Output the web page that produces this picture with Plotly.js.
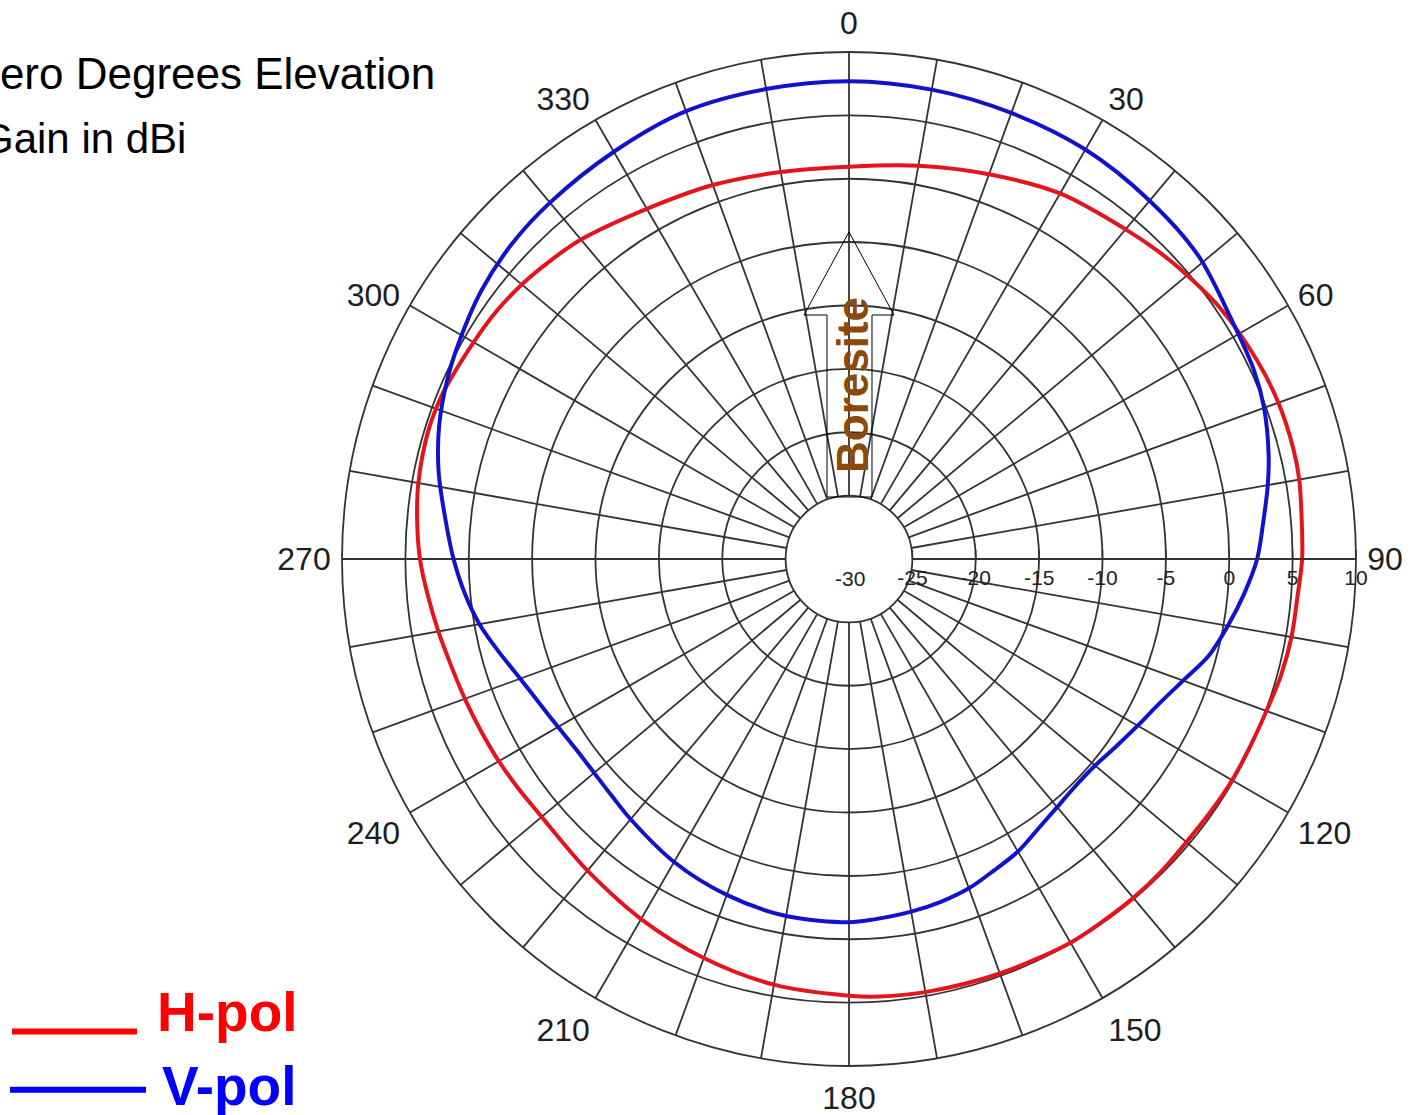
<!DOCTYPE html>
<html><head><meta charset="utf-8">
<script src="https://cdn.plot.ly/plotly-3.0.1.min.js"></script>
<style>html,body{margin:0;padding:0;background:#fff;overflow:hidden}#chart{width:1422px;height:1115px}</style>
</head><body><div id="chart"></div>
<script>
// ---- data ----
const hpolTheta = [0,10,20,30,40,45,48.5,56,64,70,76,80,85,90,95,100,105,110,115,120,125,130,135,140,145,150,160,170,176,180,190,200,210,220,225,230,235,240,245,250,255,260,265,270,275,280,287,292,295,300,305,310,315,320,330,340,350,360];
const hpolGain  = [0.95,1.5,2.3,3.3,3.95,4.4,4.7,5.35,5.8,6.05,6.12,6.07,5.85,5.75,5.5,5.45,5.3,5.05,4.93,4.9,4.8,4.75,4.85,4.9,4.9,4.95,4.8,4.7,4.6,4.45,4.1,3.5,2.8,2.1,1.8,1.65,1.75,1.9,2.05,2.25,2.5,2.9,3.35,3.85,4.2,4.5,4.7,4.62,4.45,4.2,4.0,3.7,3.3,2.9,1.9,1.4,1.0,0.95];
const vpolTheta = [0,10,20,30,40,49,58,65,70,76,80,85,90,95,100,105,110,115,120,125,130,135,140,145,150,155,160,165,170,176,180,190,200,210,220,225,230,235,240,245,250,255,260,265,270,275,282,288,294,299,306,313,320,330,340,350,360];
const vpolGain  = [7.7,7.6,7.45,7.3,6.9,6.5,5.6,5.25,4.85,4.12,3.55,2.8,2.2,1.3,0.35,-0.6,-1.95,-3.0,-3.7,-4.25,-4.65,-4.7,-4.45,-4.0,-3.35,-2.9,-2.35,-2.0,-1.75,-1.5,-1.35,-1.4,-1.8,-2.4,-3.2,-3.55,-3.75,-3.75,-3.5,-3.05,-2.4,-1.45,-0.4,0.45,1.2,1.9,3.1,4.0,4.7,5.2,5.9,6.4,6.7,7.1,7.6,7.65,7.7];
const radialTicks  = [-30,-25,-20,-15,-10,-5,0,5,10];
const radialLabels = ['-30','-25','-20','-15','-10','-5','0','5','10'];
const angleTicks = [0,10,20,30,40,50,60,70,80,90,100,110,120,130,140,150,160,170,180,190,200,210,220,230,240,250,260,270,280,290,300,310,320,330,340,350];
const titleLines = ['Zero Degrees Elevation','Gain in dBi'];
const seriesNames = ['H-pol','V-pol'];
const arrowLabel = 'Boresite';

// ---- layout helpers (pixel -> paper) ----
const W = 1422, H = 1115;
const px = x => x / W;
const py = y => 1 - y / H;
const cx = 849, cy = 559, R = 507;

const angleText = angleTicks.map(a => (a % 30 === 0 ? String(a) : ''));
const sans = 'Liberation Sans, Arial, sans-serif';

const traces = [
  {type:'scatterpolar', mode:'lines', name:seriesNames[0], theta:hpolTheta, r:hpolGain,
   line:{color:'#e3141c', width:4, shape:'spline', smoothing:0.9}},
  {type:'scatterpolar', mode:'lines', name:seriesNames[1], theta:vpolTheta, r:vpolGain,
   line:{color:'#1212cc', width:4, shape:'spline', smoothing:0.9}}
];

const gridCol = '#333333';
const arrowPts = [[849,232],[894,315],[872,315],[872,497],[827,497],[827,315],[804,315]];
const arrowPath = 'M ' + arrowPts.map(p => px(p[0]).toFixed(5) + ' ' + py(p[1]).toFixed(5)).join(' L ') + ' Z';

const layout = {
  width: W, height: H,
  margin: {l:0, r:0, t:0, b:0},
  paper_bgcolor: '#ffffff',
  showlegend: false,
  font: {family: sans, color: '#1e1e1e'},
  polar: {
    domain: {x:[px(cx - R), px(cx + R)], y:[py(cy + R), py(cy - R)]},
    bgcolor: 'rgba(0,0,0,0)',
    hole: 0.125,
    radialaxis: {
      range: [-25, 10],
      tickvals: radialTicks.slice(1),
      ticktext: radialLabels.slice(1),
      angle: 0,
      side: 'clockwise',
      tickangle: 0,
      showline: true, linecolor: gridCol, linewidth: 1.8,
      gridcolor: gridCol, gridwidth: 1.8,
      ticks: 'inside', ticklen: 8, tickcolor: gridCol, tickwidth: 1.5,
      tickfont: {size: 21, family: sans, color: '#222'}
    },
    angularaxis: {
      rotation: 90, direction: 'clockwise',
      tickvals: angleTicks, ticktext: angleText,
      showline: true, linecolor: gridCol, linewidth: 1.8,
      gridcolor: gridCol, gridwidth: 1.8,
      ticks: 'outside', ticklen: 4, tickcolor: 'rgba(0,0,0,0)',
      tickfont: {size: 32, family: sans, color: '#1e1e1e'}
    }
  },
  shapes: [
    {type:'path', xref:'paper', yref:'paper', path: arrowPath, line:{color:'#000', width:1}, fillcolor:'rgba(0,0,0,0)', layer:'above'},
    {type:'line', xref:'paper', yref:'paper', x0:px(12), x1:px(137), y0:py(1031.5), y1:py(1031.5), line:{color:'#ff0000', width:6}},
    {type:'line', xref:'paper', yref:'paper', x0:px(10), x1:px(146), y0:py(1089.7), y1:py(1089.7), line:{color:'#0000ff', width:6}}
  ],
  annotations: [
    {xref:'paper', yref:'paper', x:px(-29), y:py(73), xanchor:'left', yanchor:'middle', text:titleLines[0], showarrow:false,
     font:{size:44, color:'#000', family:sans}},
    {xref:'paper', yref:'paper', x:px(-21), y:py(138.3), xanchor:'left', yanchor:'middle', text:titleLines[1], showarrow:false,
     font:{size:42, color:'#000', family:sans}},
    {xref:'paper', yref:'paper', x:px(155), y:py(1012), xanchor:'left', yanchor:'middle', text:'<b>' + seriesNames[0] + '</b>', showarrow:false,
     font:{size:55, color:'#ff0000', family:sans}},
    {xref:'paper', yref:'paper', x:px(160), y:py(1086), xanchor:'left', yanchor:'middle', text:'<b>' + seriesNames[1] + '</b>', showarrow:false,
     font:{size:55, color:'#0000ff', family:sans}},
    {xref:'paper', yref:'paper', x:px(852), y:py(385), xanchor:'center', yanchor:'middle', text:'<b>' + arrowLabel + '</b>', textangle:-90, showarrow:false,
     font:{size:44, color:'#8b4a08', family:sans}},
    {xref:'paper', yref:'paper', x:px(850), y:py(578), xanchor:'center', yanchor:'middle', text:radialLabels[0], showarrow:false,
     font:{size:21, color:'#222', family:sans}}
  ]
};

Plotly.newPlot('chart', traces, layout, {displayModeBar:false, staticPlot:true});
</script>
</body></html>
